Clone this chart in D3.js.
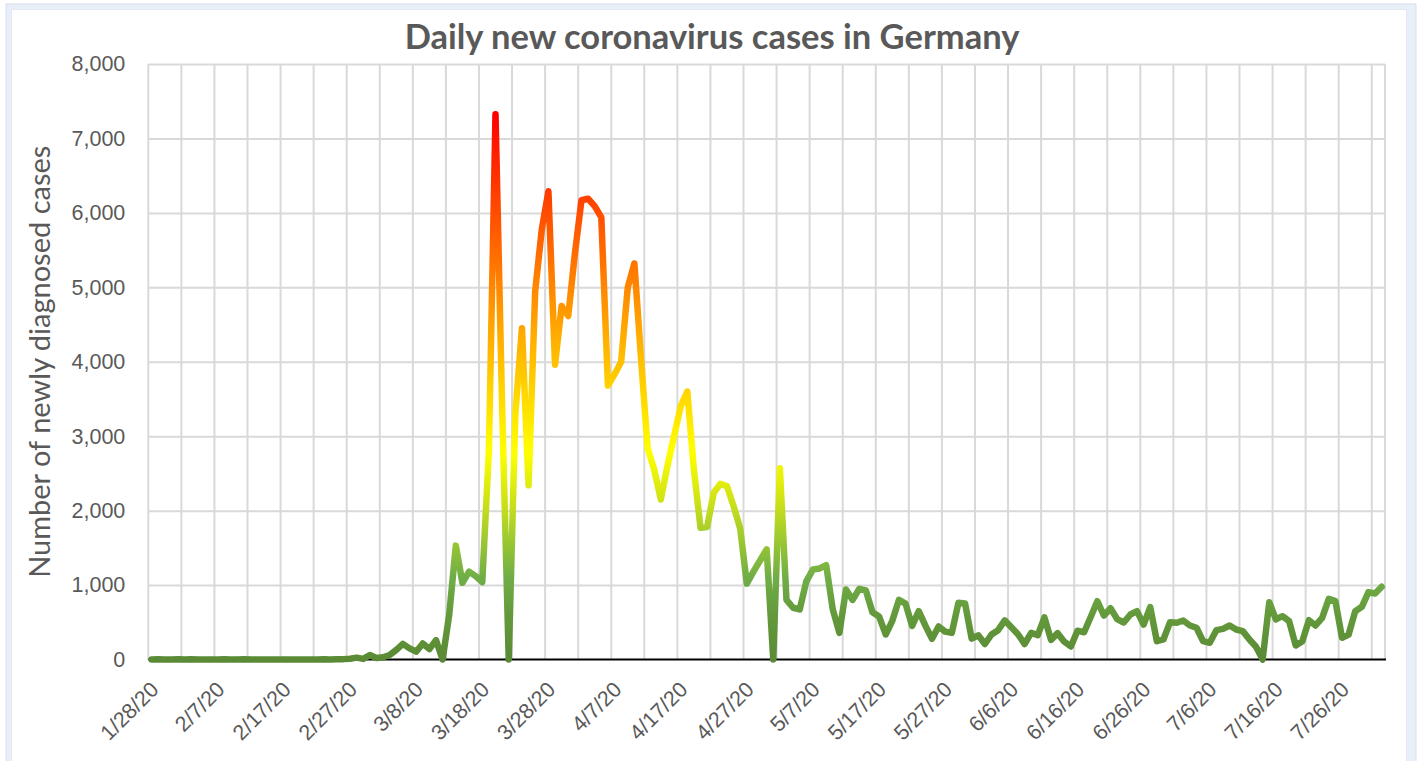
<!DOCTYPE html>
<html>
<head>
<meta charset="utf-8">
<title>Daily new coronavirus cases in Germany</title>
<script src="https://d3js.org/d3.v7.min.js"></script>
<style>
  body { margin: 0; background: #fff; }
  svg { display: block; font-family: Lato, "Open Sans", sans-serif; }
  .grid line { stroke: #d9d9d9; stroke-width: 2; }
  .grid path { display: none; }
  .ylab text, .xlab text { fill: #595959; font-size: 21.5px; }
  .ylab path, .ylab line, .xlab path, .xlab line { display: none; }
  .title { fill: #595959; font-weight: bold; font-size: 34.5px; }
  .ytitle { fill: #595959; font-size: 29px; }
</style>
</head>
<body>
<svg width="1417" height="761"></svg>
<script>
// Data: daily new cases, one value per day starting 1/28/20
var startDay = new Date(2020, 0, 28);
var cases = [
  1, 3, 0, 1, 3, 1, 2, 0, 0, 0,
  1, 2, 0, 0, 2, 0, 0, 0, 0, 0,
  0, 0, 0, 0, 0, 0, 2, 0, 3, 5,
  10, 25, 8, 60, 20, 30, 60, 130, 210, 150,
  105, 215, 140, 260, 0, 600, 1530, 1030, 1180, 1120,
  1040, 2800, 7324, 3400, 0, 3300, 4450, 2340, 4950, 5780,
  6290, 3960, 4750, 4615, 5450, 6170, 6190, 6090, 5940, 3680,
  3830, 4000, 5000, 5320, 4050, 2840, 2550, 2150, 2600, 3000,
  3400, 3600, 2550, 1770, 1780, 2240, 2360, 2330, 2060, 1760,
  1020, 1180, 1330, 1480, 0, 2570, 800, 695, 672, 1050,
  1210, 1223, 1268, 672, 358, 941, 800, 950, 927, 635,
  578, 336, 520, 800, 750, 452, 649, 455, 278, 444,
  374, 358, 762, 753, 280, 325, 208, 336, 394, 526,
  433, 340, 208, 358, 327, 567, 264, 354, 239, 175,
  387, 365, 570, 784, 591, 688, 542, 497, 605, 649,
  468, 705, 246, 269, 501, 493, 524, 457, 426, 246,
  224, 394, 412, 457, 403, 381, 269, 171, 0, 770,
  538, 582, 515, 188, 246, 528, 457, 560, 815, 784,
  292, 336, 649, 708, 905, 887, 977
];
var dates = d3.timeDay.range(startDay, d3.timeDay.offset(startDay, cases.length));
var yTicks = [0, 1000, 2000, 3000, 4000, 5000, 6000, 7000, 8000];
var titleText = "Daily new coronavirus cases in Germany";
var yTitleText = "Number of newly diagnosed cases";
// gradient stops: fraction of the line's value range -> colour
var gradStops = [
  [0, "#5a8a35"], [0.08, "#63993b"], [0.15, "#70ad47"], [0.23, "#a3cc2e"],
  [0.3, "#d4e514"], [0.38, "#ffff00"], [0.5, "#ffd200"], [0.6, "#ffaa00"],
  [0.7, "#ff7f00"], [0.85, "#ff4000"], [1, "#ff0000"]
];

var svg = d3.select("svg");
var plotL = 148.3, plotR = 1385, plotT = 64, plotB = 659.5;

// chart frame
svg.append("rect").attr("x", 6).attr("y", 4).attr("width", 1410).attr("height", 800)
    .attr("fill", "#e9eff8").attr("stroke", "#d6deeb");
svg.append("rect").attr("x", 11.5).attr("y", 9.5).attr("width", 1395).attr("height", 800)
    .attr("fill", "#fff").attr("stroke", "#e4e9f1");

var x = d3.scaleBand().domain(dates).range([plotL, plotR]).padding(0);
var y = d3.scaleLinear().domain([0, 8000]).range([plotB, plotT]);
var fmt = d3.timeFormat("%-m/%-d/%y");

// horizontal gridlines
svg.append("g").attr("class", "grid")
    .attr("transform", "translate(" + plotL + ",0)")
    .call(d3.axisLeft(y).tickValues(yTicks.slice(1)).tickSize(-(plotR - plotL)).tickFormat(""));

// vertical gridlines every 5 days (slot boundaries) plus the right edge
var gridDates = dates.filter(function (d, i) { return i % 5 === 0; });
var vgrid = svg.append("g").attr("class", "grid");
vgrid.selectAll("line")
    .data(gridDates)
    .enter().append("line")
    .attr("x1", function (d) { return x(d); })
    .attr("x2", function (d) { return x(d); })
    .attr("y1", plotT).attr("y2", plotB);
vgrid.append("line")
    .attr("x1", plotR).attr("x2", plotR)
    .attr("y1", plotT).attr("y2", plotB);

// y labels
svg.append("g").attr("class", "ylab")
    .attr("transform", "translate(" + plotL + ",0)")
    .call(d3.axisLeft(y).tickValues(yTicks).tickSize(0).tickPadding(23).tickFormat(d3.format(",")));

// zero line
svg.append("line")
    .attr("x1", plotL).attr("x2", plotR + 1)
    .attr("y1", y(0)).attr("y2", y(0))
    .attr("stroke", "#000").attr("stroke-width", 2);

// x labels every 10 days
var labelDates = dates.filter(function (d, i) { return i % 10 === 0; });
var xl = svg.append("g").attr("class", "xlab")
    .attr("transform", "translate(0," + y(0) + ")")
    .call(d3.axisBottom(x).tickValues(labelDates).tickSize(0).tickFormat(fmt));
xl.selectAll("text")
    .attr("x", 0).attr("y", 0).attr("dy", "0.35em")
    .attr("text-anchor", "end")
    .attr("transform", "translate(3,26) rotate(-45)");

// gradient for the line
var grad = svg.append("defs").append("linearGradient")
    .attr("id", "lineGrad")
    .attr("gradientUnits", "userSpaceOnUse")
    .attr("x1", 0).attr("x2", 0)
    .attr("y1", y(0)).attr("y2", y(d3.max(cases)));
grad.selectAll("stop").data(gradStops).enter().append("stop")
    .attr("offset", function (d) { return d[0]; })
    .attr("stop-color", function (d) { return d[1]; });

var line = d3.line()
    .x(function (d, i) { return x(dates[i]) + x.bandwidth() / 2; })
    .y(function (d) { return y(d); });

svg.append("path")
    .datum(cases)
    .attr("fill", "none")
    .attr("stroke", "url(#lineGrad)")
    .attr("stroke-width", 6.5)
    .attr("stroke-linejoin", "round")
    .attr("stroke-linecap", "round")
    .attr("d", line);

// titles
svg.append("text").attr("class", "title")
    .attr("x", 712).attr("y", 49)
    .attr("text-anchor", "middle")
    .text(titleText);

svg.append("text").attr("class", "ytitle")
    .attr("transform", "translate(50," + ((plotT + plotB) / 2) + ") rotate(-90)")
    .attr("text-anchor", "middle")
    .text(yTitleText);
</script>
</body>
</html>
